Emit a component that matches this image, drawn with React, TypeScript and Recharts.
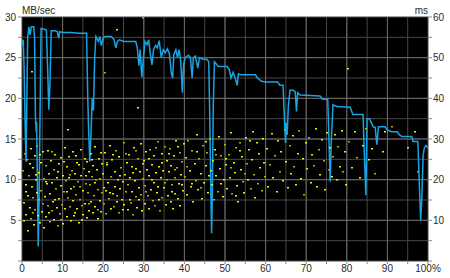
import React from 'react';
import { ComposedChart, Line, Scatter, XAxis, YAxis, CartesianGrid, ReferenceLine } from 'recharts';

// x axis: position on disk (%)
const xTicks = [0, 5, 10, 15, 20, 25, 30, 35, 40, 45, 50, 55, 60, 65, 70, 75, 80, 85, 90, 95, 100];
const xMajor = [10, 20, 30, 40, 50, 60, 70, 80, 90];
// left axis: transfer rate (MB/sec)
const mbTicks = [0, 2.5, 5, 7.5, 10, 12.5, 15, 17.5, 20, 22.5, 25, 27.5, 30];
const mbMajor = [5, 10, 15, 20, 25];
// right axis: access time (ms)
const msTicks = [0, 5, 10, 15, 20, 25, 30, 35, 40, 45, 50, 55, 60];

// transfer rate trace [position %, MB/sec]
const transferRate: [number, number][] = [
  [0, 26.5], [0.3, 27.2], [0.5, 24], [0.8, 16], [1.0, 12.2], [1.2, 20], [1.4, 27.5], [1.7, 28.8], [2.0, 27.8],
  [2.3, 28.8], [2.9, 28.8], [3.1, 27.5], [3.3, 18], [3.5, 15.9], [3.6, 17.1], [3.8, 9], [4.0, 1.8], [4.2, 7],
  [4.3, 12], [4.5, 20], [4.7, 28.6], [5.5, 28.5], [6.0, 28.4], [6.3, 24], [6.6, 18.6], [6.9, 22], [7.2, 28.3],
  [8.0, 28.3], [8.7, 28.2], [9.0, 27.4], [9.3, 28.2], [10, 28.1], [12, 28.1], [14, 28], [15.9, 28], [16.2, 20],
  [16.4, 16.3], [16.7, 12.2], [17.0, 15.7], [17.3, 20], [17.6, 18.5], [17.9, 25], [18.2, 27.6], [18.8, 27],
  [19.2, 27.6], [19.5, 26.5], [20, 27.4], [20.5, 27.6], [22, 27.6], [22.7, 27.2], [23.1, 26.2], [23.5, 27],
  [24, 27.2], [25, 27], [28, 27], [28.4, 26.2], [28.8, 24], [29.1, 26], [29.5, 22.6], [29.9, 25], [30.3, 27],
  [30.8, 26.6], [31.2, 27.2], [31.6, 25.5], [32, 24.1], [32.4, 26], [32.9, 26.5], [33.3, 26.2], [33.8, 27.1],
  [34.3, 25], [34.8, 26], [35.3, 25.6], [35.8, 26.1], [36.3, 25.5], [36.8, 23], [37.1, 22.5], [37.4, 25.4],
  [37.9, 26], [38.3, 25], [38.7, 26], [39.1, 24.5], [39.5, 20.7], [39.8, 24.2], [40.2, 25], [41, 25.3],
  [41.5, 25], [41.9, 22.5], [42.2, 25], [42.7, 25.2], [43.3, 23.7], [43.7, 25], [44.5, 24.8], [45.5, 24.8],
  [46, 24.5], [46.2, 19.2], [46.5, 8.7], [46.7, 3.4], [46.9, 8.7], [47.1, 19], [47.4, 24.5], [47.9, 24.2],
  [48.3, 23.9], [50.5, 23.9], [51, 23.6], [51.5, 22.5], [52, 23.2], [52.5, 22.5], [53, 21.6], [53.3, 23],
  [54, 22.9], [57.5, 22.9], [58, 22.5], [59, 22.1], [60, 22], [63, 22], [63.5, 21.6], [64.3, 21.6], [64.6, 18],
  [64.9, 14.5], [65.1, 17], [65.3, 15.5], [65.6, 19], [66, 21], [66.8, 21], [67.3, 20.8], [67.6, 18.4],
  [67.9, 20.7], [68.5, 20.4], [73.4, 20.3], [74, 19.9], [75.3, 19.9], [75.6, 15], [75.9, 9.75], [76.2, 15],
  [76.6, 19.2], [77.6, 19.0], [80.8, 18.9], [81.2, 18.4], [81.5, 18], [84, 18], [84.4, 12], [84.7, 8.1],
  [85, 17.5], [85.6, 17.5], [86.5, 16.5], [87.0, 16.4], [87.4, 14.3], [87.8, 16.5], [89.4, 16.5], [90, 16.1],
  [91, 15.9], [92.4, 15.9], [93, 15.5], [93.6, 15.3], [96, 15.3], [96.3, 14.7], [97.5, 14.7], [97.9, 9],
  [98.2, 5], [98.5, 8], [98.8, 13], [99.1, 13.9], [99.5, 14.2], [100, 13.9],
];

// access time samples [position %, ms]
const accessTime: [number, number][] = [
  [0.3, 22.1], [0.5, 14.3], [0.6, 9.8], [0.8, 26.4], [1.0, 18.7], [1.1, 11.2], [1.3, 24.9], [1.5, 16.0], [1.6, 7.5],
  [1.8, 20.8], [2.0, 13.1], [2.1, 27.5], [2.3, 10.4], [2.5, 18.2], [2.6, 22.9], [2.8, 15.4], [3.0, 8.9], [3.1, 25.8],
  [3.3, 12.6], [3.5, 19.9], [3.6, 16.8], [3.8, 28.4], [4.0, 11.0], [4.1, 21.7], [4.3, 14.9], [4.5, 9.3], [4.6, 24.2],
  [4.8, 17.3], [5.0, 12.0], [5.1, 26.7], [5.3, 20.1], [5.5, 8.1], [5.6, 15.8], [5.8, 23.4], [6.0, 10.7], [6.1, 18.9],
  [6.3, 13.6], [6.5, 27.0], [6.6, 21.3], [6.8, 9.6], [7.0, 16.4], [7.1, 24.6], [7.3, 12.3], [7.5, 19.2], [7.6, 14.4],
  [7.8, 22.5], [8.0, 10.0], [8.1, 26.1], [8.3, 17.6], [8.5, 13.0], [8.6, 20.5], [8.8, 8.6], [9.0, 23.8], [9.1, 15.2],
  [9.3, 11.5], [9.5, 18.4], [9.6, 25.3], [9.8, 13.8], [10.0, 21.0], [10.1, 9.1], [10.3, 16.9], [10.5, 27.8],
  [10.6, 12.9], [10.8, 19.6], [11.0, 23.1], [11.1, 10.9], [11.3, 15.6], [11.5, 20.3], [11.6, 25.6], [11.8, 13.3],
  [12.0, 17.8], [12.1, 9.9], [12.3, 22.2], [12.5, 14.7], [12.6, 26.9], [12.8, 18.1], [13.0, 11.8], [13.1, 21.5],
  [13.3, 16.2], [13.5, 24.0], [13.6, 12.7], [13.8, 19.4], [14.0, 9.4], [14.1, 23.6], [14.3, 15.0], [14.5, 20.9],
  [14.6, 27.2], [14.8, 13.5], [15.0, 17.1], [15.1, 11.4], [15.3, 22.7], [15.5, 25.1], [15.6, 14.1], [15.8, 19.0],
  [16.0, 10.6], [16.1, 24.4], [16.3, 16.6], [16.5, 21.9], [16.6, 12.4], [16.8, 18.6], [17.0, 26.3], [17.1, 14.6],
  [17.3, 20.6], [17.5, 11.7], [17.6, 23.3], [17.8, 16.1], [18.0, 28.0], [18.1, 13.2], [18.3, 19.8], [18.5, 22.4],
  [18.6, 10.3], [18.8, 17.4], [19.0, 25.0], [19.1, 14.8], [19.3, 20.2], [19.5, 12.1], [19.6, 23.9], [19.8, 16.7],
  [0.9, 16.9], [1.9, 23.8], [2.7, 11.7], [3.4, 21.1], [4.4, 26.0], [5.2, 14.1], [5.9, 19.5], [6.7, 11.9],
  [7.4, 26.8], [8.2, 15.0], [8.9, 21.8], [9.7, 10.2], [10.4, 24.3], [11.2, 17.0], [11.9, 21.2], [12.7, 11.0],
  [13.4, 25.9], [14.2, 18.3], [14.9, 10.1], [15.7, 21.0], [16.4, 13.9], [17.2, 24.9], [17.9, 19.1], [18.7, 12.6],
  [19.4, 26.6], [20.1, 18.0], [20.9, 24.1], [21.7, 16.6], [22.5, 26.0], [23.3, 16.0], [24.1, 21.0], [24.9, 12.6],
  [25.7, 26.4], [26.5, 15.0], [27.3, 21.6], [28.1, 27.0], [28.9, 14.9], [29.7, 23.9], [30.5, 16.9], [31.3, 25.0],
  [32.1, 20.0], [32.9, 27.7], [33.7, 15.1], [34.5, 24.0], [35.3, 19.3], [36.1, 26.4], [36.9, 17.0], [37.7, 22.4],
  [38.5, 28.1], [39.3, 18.6], [40.6, 23.0], [41.8, 19.0], [43.0, 26.9], [44.2, 18.0], [45.4, 29.3], [46.6, 22.1],
  [47.8, 26.0], [49.0, 18.9], [50.2, 25.0], [51.4, 22.8], [52.6, 16.0], [53.8, 27.0], [55.0, 21.5], [56.2, 29.5],
  [20.0, 21.4], [20.2, 13.9], [20.4, 26.6], [20.6, 17.2], [20.8, 11.6], [21.0, 23.5], [21.2, 19.1], [21.4, 15.3],
  [21.6, 28.3], [21.8, 12.8], [22.0, 20.7], [22.2, 24.8], [22.4, 16.4], [22.6, 13.4], [22.8, 22.0], [23.0, 18.3],
  [23.2, 27.1], [23.4, 14.5], [23.6, 20.0], [23.8, 11.9], [24.0, 25.5], [24.2, 17.7], [24.4, 22.8], [24.6, 15.1],
  [24.8, 19.5], [25.0, 29.0], [25.2, 13.7], [25.4, 21.2], [25.6, 16.9], [25.8, 24.1], [26.0, 12.5], [26.2, 18.8],
  [26.4, 26.0], [26.6, 20.4], [26.8, 14.2], [27.0, 23.0], [27.2, 17.0], [27.4, 11.3], [27.6, 27.7], [27.8, 19.7],
  [28.0, 15.7], [28.2, 22.6], [28.4, 13.1], [28.6, 25.2], [28.8, 18.0], [29.0, 21.8], [29.2, 16.3], [29.4, 28.7],
  [29.6, 12.2], [29.8, 20.1], [30.0, 24.5], [30.2, 14.0], [30.4, 18.5], [30.6, 26.8], [30.8, 22.3], [31.0, 15.9],
  [31.2, 12.7], [31.4, 20.8], [31.6, 27.4], [31.8, 17.5], [32.0, 23.7], [32.2, 14.8], [32.4, 19.3], [32.6, 25.9],
  [32.8, 13.6], [33.0, 21.6], [33.2, 16.6], [33.4, 29.3], [33.6, 18.2], [33.8, 23.2], [34.0, 12.4], [34.2, 20.5],
  [34.4, 26.2], [34.6, 15.5], [34.8, 22.1], [35.0, 17.9], [35.2, 28.1], [35.4, 13.8], [35.6, 24.7], [35.8, 19.9],
  [36.0, 16.0], [36.2, 21.9], [36.4, 27.6], [36.6, 14.4], [36.8, 23.4], [37.0, 18.7], [37.2, 12.9], [37.4, 25.7],
  [37.6, 20.3], [37.8, 16.5], [38.0, 29.6], [38.2, 22.9], [38.4, 15.2], [38.6, 19.0], [38.8, 26.5], [39.0, 13.5],
  [39.2, 21.1], [39.4, 24.3], [39.6, 17.3], [39.8, 28.8],
  [40.1, 20.6], [40.4, 25.4], [40.7, 16.2], [41.0, 29.4], [41.3, 22.2], [41.6, 18.1], [41.9, 27.0], [42.2, 14.6],
  [42.5, 23.8], [42.8, 19.6], [43.1, 31.0], [43.4, 17.4], [43.7, 25.0], [44.0, 21.4], [44.3, 15.3], [44.6, 28.2],
  [44.9, 19.2], [45.2, 23.3], [45.5, 26.6], [45.8, 16.8], [46.1, 21.0], [46.4, 29.9], [46.7, 18.6], [47.0, 24.6],
  [47.3, 14.9], [47.6, 27.4], [47.9, 20.9], [48.2, 17.0], [48.5, 30.6], [48.8, 22.7], [49.1, 25.8], [49.4, 15.8],
  [49.7, 19.9], [50.0, 28.6], [50.3, 23.5], [50.6, 17.8], [50.9, 26.1], [51.2, 20.3], [51.5, 31.5], [51.8, 16.4],
  [52.1, 24.2], [52.4, 21.7], [52.7, 27.9], [53.0, 18.4], [53.3, 14.4], [53.6, 29.1], [53.9, 22.5], [54.2, 25.5],
  [54.5, 19.4], [54.8, 16.6], [55.1, 30.3], [55.4, 23.9], [55.7, 20.0], [56.0, 27.2], [56.3, 17.6], [56.6, 24.9],
  [56.9, 31.8], [57.2, 21.2], [57.5, 15.6], [57.8, 28.9], [58.1, 19.0], [58.4, 26.4], [58.7, 22.9], [59.0, 17.2],
  [59.3, 30.0], [59.6, 24.0], [59.9, 20.7],
  [60.3, 27.6], [60.7, 18.3], [61.1, 23.6], [61.5, 31.2], [61.9, 20.4], [62.3, 25.9], [62.7, 16.9], [63.1, 29.5],
  [63.5, 22.0], [63.9, 26.8], [64.3, 19.6], [64.7, 32.2], [65.1, 24.4], [65.5, 17.9], [65.9, 28.3], [66.3, 21.5],
  [66.7, 30.7], [67.1, 23.0], [67.5, 18.8], [67.9, 26.3], [68.3, 31.9], [68.7, 20.2], [69.1, 25.1], [69.5, 16.3],
  [69.9, 28.9], [70.3, 22.6], [70.7, 30.2], [71.1, 19.3], [71.5, 26.0], [71.9, 23.4], [72.3, 32.5], [72.7, 18.1],
  [73.1, 27.3], [73.5, 21.1], [73.9, 29.8], [74.3, 24.7], [74.7, 17.5], [75.1, 31.4], [75.5, 22.4], [75.9, 27.8],
  [76.3, 20.6], [76.7, 25.6], [77.1, 30.9], [77.5, 19.8], [77.9, 28.0], [78.3, 23.1], [78.7, 32.0], [79.1, 21.8],
  [79.5, 26.7], [79.9, 18.6],
  [80.5, 29.2], [81.2, 22.8], [81.9, 31.6], [82.6, 25.3], [83.3, 20.5], [84.0, 28.4], [84.8, 32.4], [85.5, 24.8],
  [86.2, 27.5], [87.0, 21.3], [88.9, 26.9], [89.3, 31.8], [91.2, 33.0], [95.0, 27.8], [96.9, 31.7], [97.6, 22.0],
  [2.5, 46.5], [11.3, 32.2], [20.5, 46.2], [23.4, 56.8], [28.6, 37.6], [29.8, 59.8], [80.3, 47.2],
];

const lineData = transferRate.map(([x, mb]) => ({ x, mb }));
const scatterData = accessTime.map(([x, ms]) => ({ x, ms }));

const font = { fontFamily: 'Liberation Sans, Arial, sans-serif', fontSize: 10, fill: '#2a2a2a' };

const Dot = (props: any) => {
  const { cx, cy, index } = props;
  if (cx == null || cy == null) return null;
  const fill = index % 3 === 0 ? '#b4b400' : '#f0f000';
  return <rect x={Math.round(cx) - 1} y={Math.round(cy) - 1} width={2} height={1.5} fill={fill} />;
};

export default function App() {
  return (
    <div style={{ position: 'absolute', left: 0, top: 0, width: 450, height: 278, background: '#fff' }}>
      <ComposedChart width={450} height={278} margin={{ top: 17, right: 0, bottom: 0, left: 0 }}>
        <CartesianGrid yAxisId="mb" fill="#000" stroke="#474747" strokeWidth={1} />
        <XAxis
          type="number"
          dataKey="x"
          domain={[0, 100]}
          ticks={xTicks}
          interval={0}
          height={17}
          axisLine={false}
          tickLine={{ stroke: '#8a8a8a' }}
          tickSize={3}
          tickMargin={1}
          tick={font}
          tickFormatter={(v: number) => (v % 10 === 0 ? (v === 100 ? '100%' : String(v)) : '')}
        />
        <YAxis
          yAxisId="mb"
          domain={[0, 30]}
          ticks={mbTicks}
          interval={0}
          width={22}
          axisLine={false}
          tickLine={{ stroke: '#8a8a8a' }}
          tickSize={4}
          tickMargin={2}
          tick={font}
          tickFormatter={(v: number) => (v % 5 === 0 && v !== 0 ? String(v) : '')}
        />
        <YAxis
          yAxisId="ms"
          orientation="right"
          domain={[0, 60]}
          ticks={msTicks}
          interval={0}
          width={22}
          axisLine={false}
          tickLine={{ stroke: '#8a8a8a' }}
          tickSize={4}
          tickMargin={1}
          tick={font}
          tickFormatter={(v: number) => (v % 10 === 0 && v !== 0 ? String(v) : '')}
        />
        {xMajor.map((v) => (
          <ReferenceLine key={'vx' + v} x={v} yAxisId="mb" stroke="#6a6a6a" strokeWidth={1} />
        ))}
        {mbMajor.map((v) => (
          <ReferenceLine key={'hy' + v} y={v} yAxisId="mb" stroke="#6a6a6a" strokeWidth={1} />
        ))}
        <Scatter yAxisId="ms" data={scatterData} dataKey="ms" shape={Dot} isAnimationActive={false} />
        <Line
          yAxisId="mb"
          data={lineData}
          dataKey="mb"
          type="linear"
          stroke="#17a4e2"
          strokeWidth={1.5}
          dot={false}
          activeDot={false}
          isAnimationActive={false}
        />
      </ComposedChart>
      <svg width={450} height={278} style={{ position: 'absolute', left: 0, top: 0, pointerEvents: 'none' }}>
        <text x={22} y={14} fill="#2a2a2a" fontFamily="Liberation Sans, Arial, sans-serif" fontSize={10}>MB/sec</text>
        <text x={428} y={14} textAnchor="end" fill="#2a2a2a" fontFamily="Liberation Sans, Arial, sans-serif" fontSize={10}>ms</text>
      </svg>
    </div>
  );
}
